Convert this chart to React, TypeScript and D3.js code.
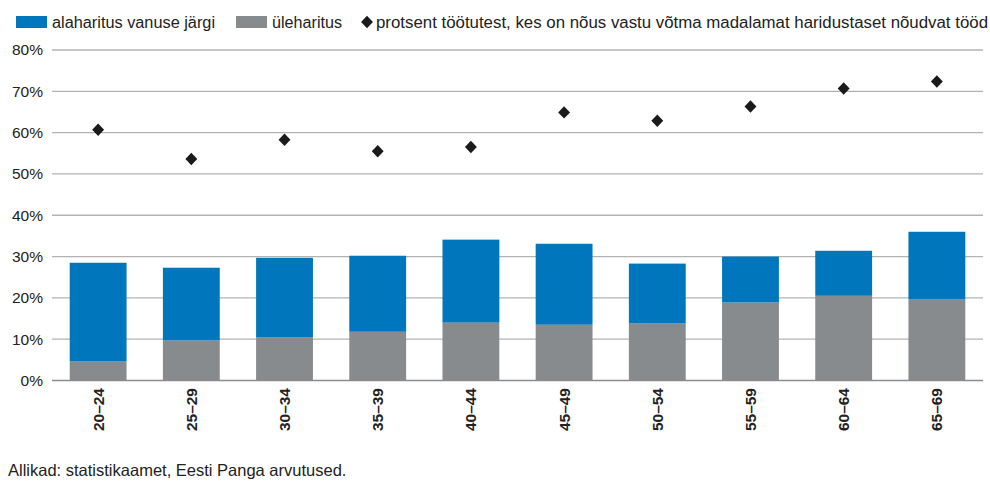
import React from "react";
import * as d3 from "d3";

const categories = ["20–24", "25–29", "30–34", "35–39", "40–44", "45–49", "50–54", "55–59", "60–64", "65–69"];
const ulehar = [4.6, 9.7, 10.5, 11.8, 14.0, 13.5, 13.8, 18.9, 20.5, 19.6];
const alahar = [23.9, 17.6, 19.2, 18.4, 20.1, 19.6, 14.5, 11.1, 10.9, 16.4];
const protsent = [60.7, 53.6, 58.3, 55.5, 56.5, 64.9, 62.9, 66.3, 70.7, 72.4];
const yTicks = [0, 10, 20, 30, 40, 50, 60, 70, 80];
const legendLabels = [
  "alaharitus vanuse järgi",
  "üleharitus",
  "protsent töötutest, kes on nõus vastu võtma madalamat haridustaset nõudvat tööd",
];
const sourceText = "Allikad: statistikaamet, Eesti Panga arvutused.";

const W = 990;
const H = 494;
const BLUE = "#0077bd";
const GRAY = "#878b8e";
const FONT = "'Liberation Sans', Arial, Helvetica, sans-serif";

export default function App() {
  const x = d3.scaleBand<string>().domain(categories).range([52, 983]).paddingInner(0.39).paddingOuter(0.19);
  const y = d3.scaleLinear().domain([0, 80]).range([380.5, 50]);
  const diamond = d3.symbol().type(d3.symbolDiamond2).size(90)();

  return (
    <svg width={W} height={H} style={{ position: "absolute", left: 0, top: 0 }} fontFamily={FONT}>
      <rect width={W} height={H} fill="#fff" />
      {/* legend */}
      <rect x={16} y={16} width={31} height={12} fill={BLUE} />
      <text x={52} y={28} fontSize={16} fill="#222" textLength={163} lengthAdjust="spacingAndGlyphs">{legendLabels[0]}</text>
      <rect x={236} y={16} width={31} height={12} fill={GRAY} />
      <text x={272} y={28} fontSize={16} fill="#222" textLength={70} lengthAdjust="spacingAndGlyphs">{legendLabels[1]}</text>
      <path d={diamond || ""} transform="translate(367,22) scale(1,1.05)" fill="#1a1a1a" />
      <text x={376} y={28} fontSize={16} fill="#222" textLength={612} lengthAdjust="spacingAndGlyphs">{legendLabels[2]}</text>

      {/* grid */}
      {yTicks.map((t) => (
        <g key={t}>
          <line x1={52} x2={983} y1={y(t)} y2={y(t)} stroke={t === 0 ? "#8a8d90" : "#b3b3b3"} strokeWidth={t === 0 ? 1.5 : 1.3} />
          <text x={43} y={y(t)} dy="0.35em" textAnchor="end" fontSize={15.5} fill="#222">{t}%</text>
        </g>
      ))}

      {/* bars */}
      {categories.map((c, i) => (
        <g key={c}>
          <rect x={x(c)} width={x.bandwidth()} y={y(ulehar[i])} height={y(0) - y(ulehar[i])} fill={GRAY} />
          <rect x={x(c)} width={x.bandwidth()} y={y(ulehar[i] + alahar[i])} height={y(ulehar[i]) - y(ulehar[i] + alahar[i])} fill={BLUE} />
        </g>
      ))}

      {/* diamonds */}
      {categories.map((c, i) => (
        <path key={c} d={diamond || ""} transform={`translate(${(x(c) || 0) + x.bandwidth() / 2},${y(protsent[i])}) scale(1,1.05)`} fill="#1a1a1a" />
      ))}

      {/* x labels */}
      {categories.map((c) => {
        const cx = (x(c) || 0) + x.bandwidth() / 2;
        return (
          <text key={c} transform={`translate(${cx + 5.5},388) rotate(-90)`} textAnchor="end" fontSize={15.5} fontWeight="bold" fill="#222">{c}</text>
        );
      })}

      <text x={8} y={476} fontSize={16.5} fill="#222">{sourceText}</text>
    </svg>
  );
}
